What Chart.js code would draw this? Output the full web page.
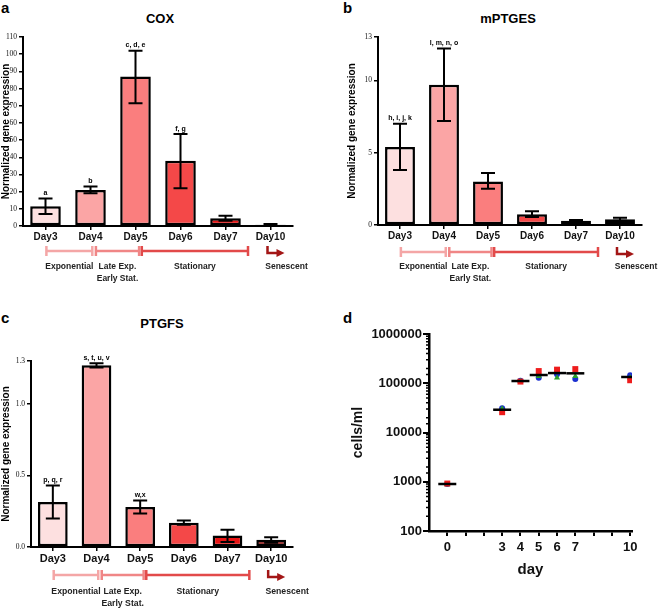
<!DOCTYPE html>
<html>
<head>
<meta charset="utf-8">
<script src="https://cdn.jsdelivr.net/npm/chart.js@4.4.1/dist/chart.umd.min.js"></script>
<style>
  body { margin: 0; width: 658px; height: 608px; position: relative; background: #fff; overflow: hidden; font-family: "Liberation Sans", Arial, sans-serif; }
  canvas { position: absolute; }
  .letter { position: absolute; font-weight: bold; font-size: 15px; line-height: 15px; color: #000; }
  .title { position: absolute; font-weight: bold; font-size: 13px; line-height: 14px; color: #000; transform: translateX(-50%); white-space: nowrap; }
</style>
</head>
<body>
<div class="letter" style="left:1px;top:0px">a</div>
<div class="letter" style="left:343px;top:0px">b</div>
<div class="letter" style="left:1px;top:310px">c</div>
<div class="letter" style="left:343px;top:310px">d</div>
<div class="title" style="left:160px;top:12px">COX</div>
<div class="title" style="left:508px;top:12px">mPTGES</div>
<div class="title" style="left:162px;top:317px">PTGFS</div>

<canvas id="chartA" width="329" height="300" style="left:0;top:0"></canvas>
<canvas id="chartB" width="328" height="300" style="left:330px;top:0"></canvas>
<canvas id="chartC" width="329" height="308" style="left:0;top:300px"></canvas>
<canvas id="chartD" width="328" height="308" style="left:330px;top:300px"></canvas>

<script>
// ---- data ----
const days = ["Day3", "Day4", "Day5", "Day6", "Day7", "Day10"];

const coxMean = [11.5, 21, 87, 38, 4.5, 0.8];
const coxLow = [7, 19, 71.5, 22, 3, 0.4];
const coxHigh = [16, 23, 102, 53.5, 6, 1.2];
const coxLetters = ["a", "b", "c, d, e", "f, g", "", ""];
const coxTicks = [0, 10, 20, 30, 40, 50, 60, 70, 80, 90, 100, 110];

const mptgesMean = [5.4, 9.7, 3.0, 0.75, 0.3, 0.4];
const mptgesLow = [3.8, 7.2, 2.5, 0.55, 0.25, 0.3];
const mptgesHigh = [7.0, 12.2, 3.6, 0.95, 0.35, 0.5];
const mptgesLetters = ["h, i, j, k", "l, m, n, o", "", "", "", ""];
const mptgesTicks = [0, 5, 10, 13];

const ptgfsMean = [0.315, 1.27, 0.28, 0.17, 0.08, 0.05];
const ptgfsLow = [0.2, 1.255, 0.235, 0.155, 0.035, 0.03];
const ptgfsHigh = [0.43, 1.285, 0.325, 0.185, 0.12, 0.068];
const ptgfsLetters = ["p, q, r", "s, t, u, v", "w,x", "", "", ""];
const ptgfsTicks = [0, 0.5, 1.0, 1.3];

// growth phases, in category units along the day axis
const phaseNames = [["Exponential"], ["Late Exp.", "Early Stat."], ["Stationary"]];
const phaseFrom = [0.02, 1.12, 2.14];
const phaseTo = [1.04, 2.08, 4.5];
const senescentAt = 5;
const senescentName = "Senescent";

const countDays = [0, 3, 4, 5, 6, 7, 10];
const countRed = [920, 25800, 108000, 177000, 189000, 194000, 115000];
const countGreen = [880, 30500, 110000, 138000, 130000, 139000, 129000];
const countBlue = [900, 31000, 112000, 130000, 152000, 122000, 145000];
const countMean = [900, 29000, 111000, 147000, 161000, 159000, 134000];
const dayTicks = [0, 1, 2, 3, 4, 5, 6, 7, 8, 9, 10];
const dayLabels = [0, 3, 4, 5, 6, 7, 10];

// ---- styles ----
const SANS = "'Liberation Sans', Arial, sans-serif";
const SERIF = "'Liberation Serif', 'Times New Roman', serif";
const barColors = ["#fde0e0", "#fba5a5", "#fa7e7e", "#f44848", "#e81414", "#8c0e0e"];
const phaseColors = ["#f4a6a6", "#f08686", "#e24a4a"];
const senescentColor = "#a31616";

function errorPlugin(low, high, letters) {
  return {
    id: "errbars",
    afterDatasetsDraw(chart) {
      const ctx = chart.ctx;
      const y = chart.scales.y;
      const bars = chart.getDatasetMeta(0).data;
      ctx.save();
      ctx.strokeStyle = "#000";
      ctx.lineWidth = 2;
      ctx.fillStyle = "#000";
      ctx.font = "bold 7px " + SANS;
      ctx.textAlign = "center";
      ctx.textBaseline = "bottom";
      bars.forEach((bar, i) => {
        const x = bar.x;
        const yl = y.getPixelForValue(low[i]);
        const yh = y.getPixelForValue(high[i]);
        ctx.beginPath();
        ctx.moveTo(x, yl); ctx.lineTo(x, yh);
        ctx.moveTo(x - 7, yl); ctx.lineTo(x + 7, yl);
        ctx.moveTo(x - 7, yh); ctx.lineTo(x + 7, yh);
        ctx.stroke();
        if (letters[i]) ctx.fillText(letters[i], x, yh - 2);
      });
      ctx.restore();
    }
  };
}

function phasePlugin(barOff, textOff, fontSize) {
  return {
    id: "phases",
    afterDraw(chart) {
      const ctx = chart.ctx;
      const x = chart.scales.x;
      const yb = chart.chartArea.bottom + barOff;
      const yt = chart.chartArea.bottom + textOff;
      ctx.save();
      ctx.lineWidth = 2.5;
      ctx.font = "bold " + fontSize + "px " + SANS;
      ctx.textAlign = "center";
      ctx.textBaseline = "middle";
      phaseNames.forEach((names, i) => {
        const x1 = x.getPixelForValue(phaseFrom[i]);
        const x2 = x.getPixelForValue(phaseTo[i]);
        ctx.strokeStyle = phaseColors[i];
        ctx.beginPath();
        ctx.moveTo(x1, yb); ctx.lineTo(x2, yb);
        ctx.moveTo(x1, yb - 5); ctx.lineTo(x1, yb + 5);
        ctx.moveTo(x2, yb - 5); ctx.lineTo(x2, yb + 5);
        ctx.stroke();
        ctx.fillStyle = "#222";
        names.forEach((n, k) => ctx.fillText(n, (x1 + x2) / 2, yt + k * (fontSize + 3)));
      });
      // senescent arrow
      const xs = x.getPixelForValue(senescentAt) - 3;
      ctx.strokeStyle = senescentColor;
      ctx.fillStyle = senescentColor;
      ctx.beginPath();
      ctx.moveTo(xs, yb - 5); ctx.lineTo(xs, yb + 2); ctx.lineTo(xs + 10, yb + 2);
      ctx.stroke();
      ctx.beginPath();
      ctx.moveTo(xs + 9, yb - 2); ctx.lineTo(xs + 17, yb + 2); ctx.lineTo(xs + 9, yb + 6);
      ctx.closePath(); ctx.fill();
      ctx.fillStyle = "#222";
      ctx.fillText(senescentName, xs + 19, yt);
      ctx.restore();
    }
  };
}

function barChart(id, mean, low, high, letters, tickVals, box, opts) {
  const canvas = document.getElementById(id);
  return new Chart(canvas, {
    type: "bar",
    data: {
      labels: days,
      datasets: [{
        data: mean,
        backgroundColor: barColors,
        borderColor: "#000",
        borderWidth: 2.5,
        borderSkipped: false,
        categoryPercentage: 1,
        barPercentage: 0.68
      }]
    },
    options: {
      responsive: false,
      animation: false,
      layout: { padding: { left: 0, top: box.top, right: canvas.width - box.right, bottom: 0 } },
      plugins: { legend: { display: false }, tooltip: { enabled: false } },
      scales: {
        x: {
          grid: { drawOnChartArea: false, offset: false, tickLength: 4, color: "#000", lineWidth: 1.5 },
          border: { color: "#000", width: 2 },
          ticks: { font: { family: SANS, size: opts.dayFont, weight: "bold" }, color: "#111", padding: 1, maxRotation: 0, autoSkip: false },
          afterFit: s => { s.height = canvas.height - box.bottom; }
        },
        y: {
          min: 0,
          max: tickVals[tickVals.length - 1],
          afterBuildTicks: s => { s.ticks = tickVals.map(v => ({ value: v })); },
          grid: { drawOnChartArea: false, tickLength: 4, color: "#000", lineWidth: 1.5 },
          border: { color: "#000", width: 2 },
          ticks: { font: { family: SERIF, size: 7.5 }, color: "#111", padding: 2, callback: opts.fmt },
          title: { display: true, text: "Normalized gene expression", color: "#000",
                   font: { family: SANS, size: 10, weight: "bold" }, padding: { top: opts.titlePad, bottom: 0 } },
          afterFit: s => { s.width = box.left; }
        }
      }
    },
    plugins: [errorPlugin(low, high, letters), phasePlugin(opts.barOff, opts.textOff, opts.phaseFont)]
  });
}

barChart("chartA", coxMean, coxLow, coxHigh, coxLetters, coxTicks,
  { left: 23, right: 293, top: 37, bottom: 226 },
  { dayFont: 10, titlePad: 0, barOff: 25, textOff: 41, phaseFont: 8.5, fmt: v => v });

barChart("chartB", mptgesMean, mptgesLow, mptgesHigh, mptgesLetters, mptgesTicks,
  { left: 48, right: 312, top: 37, bottom: 225 },
  { dayFont: 10, titlePad: 16, barOff: 27, textOff: 42, phaseFont: 8.5, fmt: v => v });

barChart("chartC", ptgfsMean, ptgfsLow, ptgfsHigh, ptgfsLetters, ptgfsTicks,
  { left: 31, right: 293, top: 61, bottom: 247 },
  { dayFont: 11, titlePad: 0, barOff: 28, textOff: 45, phaseFont: 8.7, fmt: v => v.toFixed(1) });

// ---- panel d: cell counts ----
const minorTicks = {
  id: "minorTicks",
  afterDraw(chart) {
    const ctx = chart.ctx;
    const y = chart.scales.y;
    ctx.save();
    ctx.strokeStyle = "#000";
    ctx.lineWidth = 1.5;
    ctx.beginPath();
    y.ticks.forEach(t => {
      const lg = Math.log10(t.value);
      if (Math.abs(lg - Math.round(lg)) < 1e-6) return;
      const py = y.getPixelForValue(t.value);
      ctx.moveTo(y.right - 3, py); ctx.lineTo(y.right, py);
    });
    ctx.stroke();
    ctx.restore();
  }
};

const isDecade = v => Math.abs(Math.log10(v) - Math.round(Math.log10(v))) < 1e-6;
const pts = arr => countDays.map((d, i) => ({ x: d, y: arr[i] }));

// Chart.js paints the first dataset last, so the mean bar comes first
const cD = document.getElementById("chartD");
new Chart(cD, {
  type: "scatter",
  data: {
    datasets: [
      { data: pts(countMean), pointStyle: "line", pointRadius: 9, borderColor: "#000", borderWidth: 2.5 },
      { data: pts(countRed), pointStyle: "rect", pointRadius: 4.2, backgroundColor: "#ee1c1c", borderColor: "#ee1c1c", borderWidth: 0 },
      { data: pts(countGreen), pointStyle: "triangle", pointRadius: 3.5, backgroundColor: "#2aa02a", borderColor: "#2aa02a", borderWidth: 0 },
      { data: pts(countBlue), pointStyle: "circle", pointRadius: 3, backgroundColor: "#1a2fd0", borderColor: "#1a2fd0", borderWidth: 0 }
    ]
  },
  options: {
    responsive: false,
    animation: false,
    layout: { padding: { left: 0, top: 34, right: cD.width - 302, bottom: 0 } },
    plugins: { legend: { display: false }, tooltip: { enabled: false } },
    scales: {
      x: {
        type: "linear",
        min: -1,
        max: 10.1,
        afterBuildTicks: s => { s.ticks = dayTicks.map(v => ({ value: v })); },
        grid: { drawOnChartArea: false, tickLength: 5, color: "#000", lineWidth: 2 },
        border: { color: "#000", width: 2.5 },
        ticks: { font: { family: SANS, size: 13, weight: "bold" }, color: "#111", padding: 4, autoSkip: false, maxRotation: 0,
                 callback: v => dayLabels.includes(v) ? String(v) : "" },
        title: { display: true, text: "day", color: "#111", font: { family: SANS, size: 15, weight: "bold" }, padding: { top: 0, bottom: 29 } },
        afterFit: s => { s.height = cD.height - 231; }
      },
      y: {
        type: "logarithmic",
        min: 100,
        max: 1000000,
        grid: { drawOnChartArea: false, tickLength: 6, lineWidth: 2,
                color: c => (c.tick && isDecade(c.tick.value)) ? "#000" : "rgba(0,0,0,0)" },
        border: { color: "#000", width: 2.5 },
        ticks: { font: { family: SANS, size: 13, weight: "bold" }, color: "#111", padding: 1, autoSkip: false,
                 callback: v => isDecade(v) ? String(v) : "" },
        title: { display: true, text: "cells/ml", color: "#111", font: { family: SANS, size: 14, weight: "bold" }, padding: { top: 20, bottom: 0 } },
        afterFit: s => { s.width = 99; }
      }
    }
  },
  plugins: [minorTicks]
});
</script>
</body>
</html>
